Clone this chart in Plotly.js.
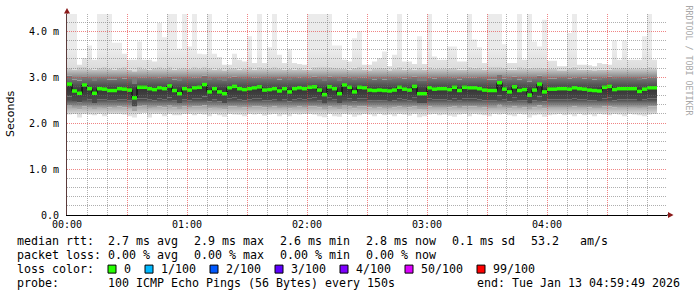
<!DOCTYPE html>
<html><head><meta charset="utf-8">
<script src="https://cdn.plot.ly/plotly-3.0.1.min.js"></script>
<style>html,body{margin:0;padding:0;background:#fff}#chart{width:697px;height:297px}</style>
</head><body><div id="chart"></div>
<script>
// ---- data (milliseconds, one value per 150 s step starting 00:00) ----
const stepMinutes = 2.5;
const medianRtt = [2.85,2.70,2.65,2.83,2.75,2.65,2.75,2.74,2.71,2.71,2.75,2.74,2.72,2.55,2.78,2.78,2.75,2.73,2.77,2.75,2.81,2.71,2.64,2.75,2.72,
2.77,2.78,2.84,2.68,2.75,2.68,2.64,2.77,2.80,2.75,2.73,2.75,2.77,2.79,2.72,2.73,2.75,2.70,2.75,2.68,2.75,2.77,2.75,2.78,2.79,
2.72,2.62,2.79,2.75,2.64,2.83,2.78,2.68,2.78,2.77,2.72,2.71,2.72,2.71,2.70,2.72,2.78,2.74,2.72,2.80,2.64,2.64,2.77,2.74,2.75,
2.75,2.73,2.78,2.71,2.78,2.77,2.77,2.75,2.72,2.71,2.71,2.88,2.74,2.68,2.79,2.71,2.73,2.61,2.72,2.85,2.68,2.74,2.74,2.75,2.75,
2.74,2.77,2.75,2.74,2.72,2.71,2.70,2.78,2.80,2.73,2.75,2.75,2.75,2.75,2.69,2.74,2.77,2.77];
const pingMax = [4.5,4.5,3.27,3.42,3.69,3.38,4.5,4.5,4.5,3.75,3.75,3.51,3.38,3.38,3.78,3.38,3.38,3.34,4.18,3.87,4.5,4.5,3.62,4.5,3.67,
4.5,3.51,3.50,4.5,3.51,3.44,3.27,3.27,3.51,3.38,3.34,3.89,3.31,4.5,3.31,3.65,4.5,3.49,3.31,3.61,3.31,3.29,3.27,4.5,4.5,
4.5,4.5,4.5,3.69,3.69,3.38,3.34,3.85,4.00,3.27,3.27,3.34,3.42,3.56,3.24,3.49,4.5,3.34,3.34,3.29,3.89,3.29,4.5,3.45,3.38,
3.38,3.67,3.67,3.34,3.34,4.5,3.82,3.65,3.31,4.5,4.5,4.5,3.72,3.31,3.31,4.5,3.38,4.5,3.78,3.67,4.25,3.36,3.36,3.24,3.24,
3.96,4.5,3.27,3.27,3.26,3.24,3.31,3.29,3.27,3.80,3.38,3.80,3.38,3.38,3.38,3.89,4.5,3.38];
const ping90 = [3.20,3.17,3.24,3.22,3.19,3.17,3.20,3.24,3.18,3.17,3.20,3.22,3.17,3.13,3.22,3.19,3.17,3.20,3.22,3.18,3.24,3.17,3.18,3.20,3.19,
3.22,3.18,3.24,3.20,3.17,3.19,3.15,3.18,3.21,3.17,3.18,3.22,3.17,3.23,3.18,3.20,3.22,3.18,3.17,3.19,3.16,3.18,3.17,3.16,3.23,
3.22,3.24,3.23,3.20,3.18,3.19,3.17,3.21,3.22,3.16,3.15,3.18,3.20,3.21,3.15,3.19,3.23,3.17,3.18,3.17,3.20,3.16,3.23,3.19,3.18,
3.18,3.21,3.20,3.17,3.17,3.23,3.21,3.20,3.17,3.22,3.22,3.24,3.20,3.17,3.17,3.22,3.18,3.21,3.20,3.20,3.21,3.18,3.18,3.15,3.15,
3.21,3.23,3.16,3.16,3.16,3.15,3.17,3.16,3.16,3.20,3.18,3.20,3.18,3.18,3.18,3.21,3.23,3.18];
const ping75 = [3.03,2.95,2.93,3.02,2.98,2.92,2.98,2.98,2.95,2.95,2.98,2.97,2.96,2.85,3.00,3.00,2.98,2.96,2.99,2.98,3.02,2.95,2.92,2.98,2.96,
2.99,3.00,3.03,2.94,2.98,2.94,2.92,2.99,3.01,2.98,2.96,2.98,2.99,3.00,2.96,2.96,2.98,2.95,2.98,2.94,2.98,2.99,2.98,3.00,3.01,
2.96,2.92,3.01,2.98,2.92,3.02,3.00,2.94,3.00,2.99,2.96,2.95,2.96,2.95,2.94,2.96,3.00,2.97,2.96,3.01,2.92,2.92,2.99,2.97,2.98,
2.98,2.96,3.00,2.95,3.00,2.99,2.99,2.98,2.96,2.95,2.95,3.05,2.97,2.94,3.01,2.95,2.96,2.90,2.96,3.03,2.94,2.97,2.97,2.98,2.98,
2.97,2.99,2.98,2.97,2.96,2.95,2.94,3.00,3.01,2.96,2.98,2.98,2.98,2.98,2.94,2.97,2.99,2.99];
const ping25 = [2.58,2.48,2.45,2.57,2.52,2.44,2.52,2.51,2.49,2.49,2.52,2.51,2.50,2.36,2.54,2.54,2.52,2.50,2.53,2.52,2.56,2.49,2.44,2.52,2.50,
2.53,2.54,2.58,2.47,2.52,2.47,2.44,2.53,2.55,2.52,2.50,2.52,2.53,2.54,2.50,2.50,2.52,2.48,2.52,2.47,2.52,2.53,2.52,2.54,2.55,
2.50,2.42,2.55,2.52,2.44,2.57,2.54,2.47,2.54,2.53,2.50,2.49,2.50,2.49,2.48,2.50,2.54,2.51,2.50,2.55,2.44,2.44,2.53,2.51,2.52,
2.52,2.50,2.54,2.49,2.54,2.53,2.53,2.52,2.50,2.49,2.49,2.60,2.51,2.47,2.55,2.49,2.50,2.42,2.50,2.58,2.47,2.51,2.51,2.52,2.52,
2.51,2.53,2.52,2.51,2.50,2.49,2.48,2.54,2.55,2.50,2.52,2.52,2.52,2.52,2.48,2.51,2.53,2.53];
const ping10 = [2.38,2.33,2.30,2.37,2.35,2.31,2.35,2.33,2.34,2.35,2.36,2.34,2.33,2.26,2.37,2.38,2.33,2.35,2.36,2.34,2.38,2.34,2.31,2.36,2.35,
2.36,2.37,2.39,2.32,2.35,2.33,2.30,2.36,2.37,2.35,2.34,2.35,2.36,2.37,2.34,2.35,2.36,2.33,2.35,2.32,2.35,2.36,2.35,2.37,2.37,
2.34,2.29,2.37,2.35,2.30,2.38,2.37,2.32,2.37,2.36,2.34,2.33,2.34,2.33,2.33,2.34,2.37,2.35,2.34,2.37,2.30,2.31,2.36,2.35,2.35,
2.35,2.34,2.37,2.33,2.37,2.36,2.36,2.35,2.34,2.33,2.33,2.40,2.35,2.32,2.37,2.33,2.34,2.29,2.34,2.39,2.32,2.35,2.35,2.35,2.35,
2.35,2.36,2.35,2.35,2.34,2.33,2.33,2.37,2.37,2.34,2.35,2.35,2.35,2.35,2.33,2.35,2.36,2.36];
const pingMin = [2.19,2.20,2.12,2.20,2.19,2.17,2.20,2.15,2.20,2.20,2.20,2.19,2.15,2.12,2.20,2.22,2.12,2.20,2.20,2.15,2.20,2.17,2.17,2.20,2.20,
2.17,2.20,2.19,2.15,2.20,2.17,2.14,2.20,2.19,2.18,2.15,2.20,2.19,2.20,2.16,2.19,2.20,2.15,2.19,2.15,2.20,2.19,2.20,2.20,2.19,
2.15,2.13,2.20,2.15,2.14,2.20,2.19,2.14,2.17,2.20,2.19,2.15,2.20,2.17,2.19,2.15,2.20,2.19,2.16,2.20,2.13,2.15,2.19,2.20,2.17,
2.19,2.16,2.14,2.19,2.20,2.15,2.20,2.19,2.17,2.15,2.20,2.19,2.20,2.17,2.15,2.20,2.19,2.12,2.17,2.19,2.14,2.17,2.19,2.20,2.17,
2.19,2.15,2.20,2.17,2.19,2.15,2.20,2.19,2.17,2.20,2.19,2.15,2.20,2.19,2.17,2.15,2.19,2.20];

const xTickVals = [0,30,60,90,120,150,180,210,240,270];
const xTickText = ['00:00','','01:00','','02:00','','03:00','','04:00',''];
const yTickVals = [0,1,2,3,4];
const yTickText = ['0.0','1.0 m','2.0 m','3.0 m','4.0 m'];
const statsRtt = ['2.7 ms avg','2.9 ms max','2.6 ms min','2.8 ms now','0.1 ms sd','53.2   am/s'];
const statsLoss = ['0.00 % avg','0.00 % max','0.00 % min','0.00 % now'];
const lossLabels = ['0','1/100','2/100','3/100','4/100','50/100','99/100'];
const lossColors = ['#26ff00','#00b8ff','#0059ff','#5e00ff','#7e00ff','#dd00ff','#ff0000'];
const probeText = '100 ICMP Echo Pings (56 Bytes) every 150s';
const endText = 'end: Tue Jan 13 04:59:49 2026';

// ---- build ----
const n = medianRtt.length;
const xs = medianRtt.map((_, i) => i * stepMinutes).concat([n * stepMinutes]);
const close = a => a.concat([a[a.length - 1]]);
const mean = a => a.reduce((s, v) => s + v, 0) / a.length;

const W = 697, H = 297, ML = 67, MR = 30, MT = 14, MB = 82;
const PW = W - ML - MR, PH = H - MT - MB;
const XMAX = 300, YMAX = 4.376;
const px2x = X => (X - ML) / PW;
const px2y = Y => (H - MB - Y) / PH;
const nb = s => s.replace(/ /g, '\u00a0');
const mono = 'DejaVu Sans Mono, monospace';

const bands = [
  [ping10, '#e3e3e3', '#aaaaaa'],
  [ping25, '#a4a4a4', '#4c4c4c'],
  [medianRtt, '#4a4a4a', '#363636'],
  [ping75, '#3e3e3e', '#767676'],
  [ping90, '#7c7c7c', '#d2d2d2'],
  [pingMax, '#dcdcdc', '#ebebeb']
];
const traces = [{
  type: 'scatter', mode: 'lines', x: xs, y: close(pingMin),
  line: {width: 0, shape: 'hv'}, hoverinfo: 'skip', showlegend: false
}];
let lower = pingMin;
bands.forEach(([upper, c0, c1]) => {
  const lo = mean(lower);
  const hi = upper === pingMax ? 3.6 : mean(upper);
  traces.push({
    type: 'scatter', mode: 'lines', x: xs, y: close(upper),
    line: {width: 0, shape: 'hv'}, fill: 'tonexty', fillcolor: c0,
    fillgradient: {type: 'vertical', start: lo, stop: hi, colorscale: [[0, c0], [1, c1]]},
    hoverinfo: 'skip', showlegend: false
  });
  lower = upper;
});
traces.push({
  type: 'scatter', mode: 'lines', x: xs, y: close(medianRtt),
  line: {width: 1, shape: 'hv', color: '#000'}, hoverinfo: 'skip', showlegend: false
});
const gx = [], gy = [];
medianRtt.forEach((v, i) => { gx.push(i * stepMinutes, (i + 1) * stepMinutes, null); gy.push(v, v, null); });
traces.push({
  type: 'scatter', mode: 'lines', x: gx, y: gy, connectgaps: false,
  line: {width: 3.5, color: '#26ff00'}, hoverinfo: 'skip', showlegend: false
});

// grid over the smoke, snapped to pixel centres (paper coordinates)
const shapes = [];
const gridMinor = 'rgba(110,110,110,0.55)', gridMajor = 'rgba(230,50,50,0.6)';
const snapY = v => { const Y = MT + (1 - v / YMAX) * PH; return px2y(Math.floor(Y) + 0.5); };
const snapX = m => { const X = ML + m / XMAX * PW; return px2x(Math.floor(X) + 0.5); };
for (let i = 1; i <= 21; i++) {
  const y = snapY(i / 5);
  shapes.push({type: 'line', layer: 'above', xref: 'paper', yref: 'paper', x0: 0, x1: 1, y0: y, y1: y,
    line: {color: i % 5 === 0 ? gridMajor : gridMinor, width: 1, dash: '1px,1px'}});
}
for (let m = 10; m < XMAX; m += 10) {
  const x = snapX(m);
  shapes.push({type: 'line', layer: 'above', xref: 'paper', yref: 'paper', x0: x, x1: x, y0: 0, y1: 1,
    line: {color: m % 30 === 0 ? gridMajor : gridMinor, width: 1, dash: '1px,1px'}});
}
shapes.push({type: 'line', xref: 'paper', yref: 'paper', x0: 0, x1: 0, y0: 1, y1: px2y(10), line: {color: '#5b3b3b', width: 1}});
shapes.push({type: 'path', xref: 'paper', yref: 'paper',
  path: `M${px2x(64)},${px2y(13.5)} L${px2x(70)},${px2y(13.5)} L${px2x(67)},${px2y(8)} Z`,
  fillcolor: '#8b1a1a', line: {width: 0}});
shapes.push({type: 'line', xref: 'paper', yref: 'paper', x0: 1, x1: px2x(670), y0: 0, y1: 0, line: {color: '#000', width: 1}});
shapes.push({type: 'path', xref: 'paper', yref: 'paper',
  path: `M${px2x(668)},${px2y(212)} L${px2x(668)},${px2y(218)} L${px2x(673.5)},${px2y(215)} Z`,
  fillcolor: '#8b1a1a', line: {width: 0}});

const annotations = [];
const txt = (X, Y, s, extra) => annotations.push(Object.assign({
  xref: 'paper', yref: 'paper', x: px2x(X), y: px2y(Y), xanchor: 'left', yanchor: 'middle',
  text: nb(s), showarrow: false, borderpad: 0, font: {family: mono, size: 11.63, color: '#000'}
}, extra || {}));
const CW = 7.0, rowY = [241.4, 255.2, 269.1, 283.0], itemX0 = 107.3, gap = 16;
txt(16, rowY[0], 'median rtt:');
let xx = itemX0;
statsRtt.forEach(s => { txt(xx, rowY[0], s); xx += s.length * CW + gap; });
txt(16, rowY[1], 'packet loss:');
xx = itemX0;
statsLoss.forEach(s => { txt(xx, rowY[1], s); xx += s.length * CW + gap; });
txt(16, rowY[2], 'loss color:');
xx = 108;
lossLabels.forEach((s, i) => {
  shapes.push({type: 'rect', xref: 'paper', yref: 'paper',
    x0: px2x(xx), x1: px2x(xx + 8), y0: px2y(rowY[2] + 4), y1: px2y(rowY[2] - 4),
    fillcolor: lossColors[i], line: {color: '#000', width: 1}});
  txt(xx + 14.7, rowY[2], s);
  xx += 14.7 + s.length * CW + 15.3;
});
txt(16, rowY[3], 'probe:');
txt(itemX0, rowY[3], probeText);
txt(681, rowY[3], endText, {xanchor: 'right'});
annotations.push({xref: 'paper', yref: 'paper', x: px2x(10.5), y: 0.5, xanchor: 'center', yanchor: 'middle',
  text: 'Seconds', textangle: -90, showarrow: false, borderpad: 0,
  font: {family: 'DejaVu Sans, sans-serif', size: 11, color: '#000'}});
annotations.push({xref: 'paper', yref: 'paper', x: px2x(688.5), y: px2y(60), xanchor: 'center', yanchor: 'middle',
  text: nb('RRDTOOL / TOBI OETIKER'), textangle: 90, showarrow: false, borderpad: 0,
  font: {family: mono, size: 8.3, color: '#a8a8a8'}});

const layout = {
  width: W, height: H, margin: {l: ML, r: MR, t: MT, b: MB, pad: 0},
  paper_bgcolor: '#fff', plot_bgcolor: '#fff', showlegend: false,
  xaxis: {range: [0, XMAX], tickmode: 'array', tickvals: xTickVals, ticktext: xTickText,
    showgrid: false, zeroline: false, showline: true, linecolor: '#000', linewidth: 1,
    ticks: '', tickfont: {family: mono, size: 10, color: '#000'}, fixedrange: true},
  yaxis: {range: [0, YMAX], tickmode: 'array', tickvals: yTickVals, ticktext: yTickText,
    showgrid: false, zeroline: false, showline: true, linecolor: '#5b3b3b', linewidth: 1,
    ticks: '', ticklabelstandoff: 5, tickfont: {family: mono, size: 10, color: '#000'}, fixedrange: true},
  shapes: shapes, annotations: annotations
};
Plotly.newPlot('chart', traces, layout, {staticPlot: true, displayModeBar: false});
</script>
</body></html>
